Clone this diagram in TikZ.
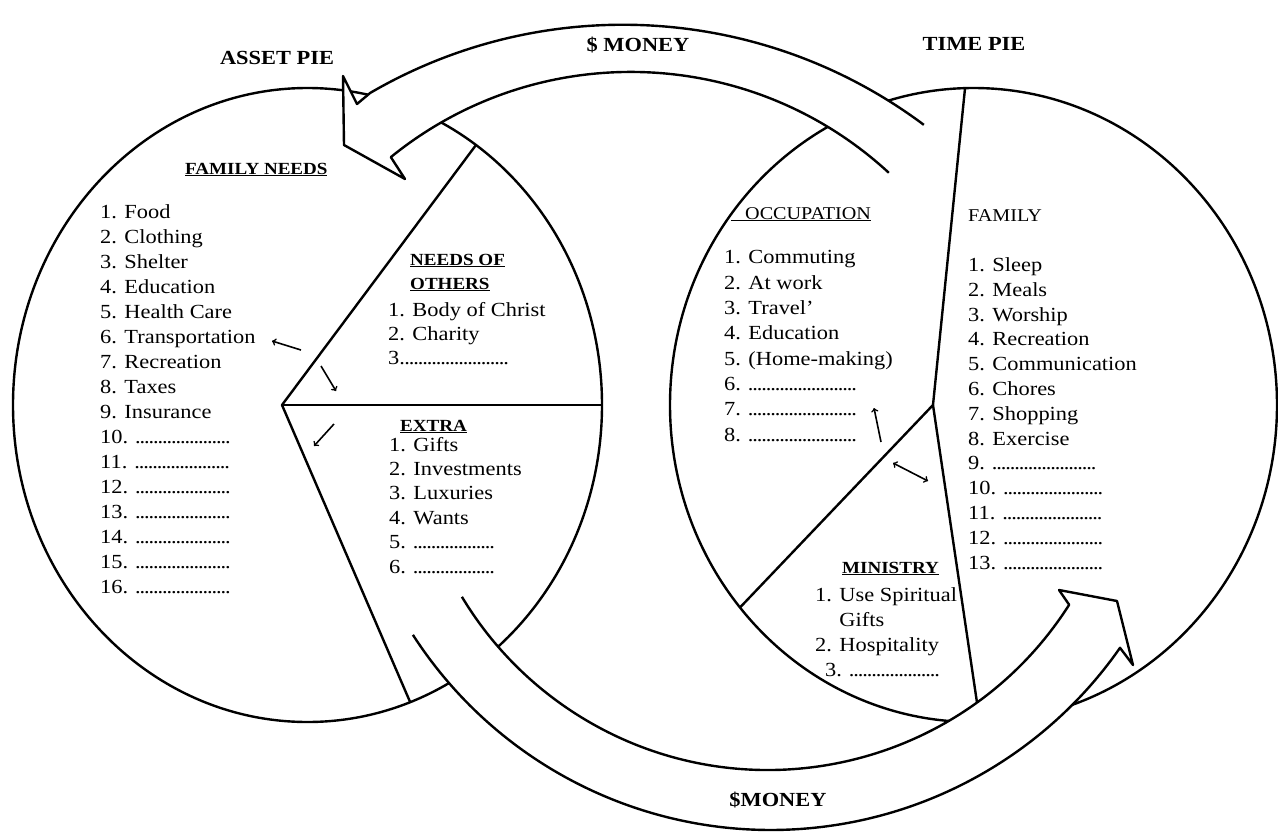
\documentclass[tikz,border=0pt]{standalone}
\usepackage{fontspec}
\setmainfont[FakeStretch=1.12]{Liberation Serif}
\usetikzlibrary{calc}
\newcommand\fillin[1]{\makebox[#1pt]{\leaders\hbox to 4.5pt{\hss.\hss}\hfill}}

\begin{document}
\begin{tikzpicture}[x=1pt, y=-1pt, line join=round]
\path[use as bounding box, fill=white] (0,0) rectangle (1278,833);
\tikzset{pie/.style={line width=2.4pt}, band/.style={line width=2.4pt, fill=white}}
\tikzset{every node/.style={inner sep=0pt, anchor=base west, align=left}}
\tikzset{items/.style={font=\fontsize{20}{#1}\selectfont}, items/.default=25}
\tikzset{head/.style={font=\fontsize{17}{24}\selectfont\bfseries}}
\tikzset{sub/.style={font=\fontsize{18}{24}\selectfont}}
\tikzset{title/.style={anchor=base, font=\fontsize{20}{24}\selectfont\bfseries}}

\coordinate (lc) at (307.5,405);
\coordinate (rc) at (973.5,405);
\coordinate (lv) at (282,405);
\coordinate (rv) at (933,405);
\coordinate (l1) at ($(lc)+(-55.1:294.5 and 317)$);
\coordinate (l2) at ($(lc)+(0:294.5 and 317)$);
\coordinate (l3) at ($(lc)+(69.6:294.5 and 317)$);
\coordinate (r1) at ($(rc)+(-91.6:303.5 and 317)$);
\coordinate (r2) at ($(rc)+(140.3:303.5 and 317)$);
\coordinate (r3) at ($(rc)+(88.8:303.5 and 317)$);

\draw[pie] (lc) ellipse [x radius=294.5, y radius=317];
\draw[pie] (rc) ellipse [x radius=303.5, y radius=317];
\draw[pie] (l1) -- (lv) -- (l3);
\draw[pie] (lv) -- (l2);
\draw[pie] (r1) -- (rv) -- (r3);
\draw[pie] (rv) -- (r2);

\coordinate (tbo) at (622.9,527.1);
\coordinate (tbi) at (630.8,452.4);
\coordinate (bbo) at (770.8,404.2);
\coordinate (bbi) at (768,412.9);
\draw[band] ($(tbo)+(-53.2:502.4)$) arc[start angle=-53.2, end angle=-120.2, radius=502.4]
  -- (357,104) -- (343,76) -- (344,145) -- (405,179)
  -- ($(tbi)+(-129.1:380.5)$) arc[start angle=-129.1, end angle=-47.3, radius=380.5];
\draw[band] ($(bbo)+(147.2:425.8)$) arc[start angle=147.2, end angle=34.9, radius=425.8]
  -- (1133,665) -- (1117,601) -- (1059,590)
  -- ($(bbi)+(32.5:357.1)$) arc[start angle=32.5, end angle=149, radius=357.1];

\node[title] (asset) at (277,64) {ASSET PIE};
\node[title] (moneytop) at (638,51) {\$ MONEY};
\node[title] (time) at (974,50) {TIME PIE};
\node[title] (moneybot) at (778,806) {\$MONEY};

\node[head] (needs) at (185,174) {\underline{FAMILY NEEDS}};
\node[items] (needslist) at (100,593) {1. Food\\2. Clothing\\3. Shelter\\4. Education\\5. Health Care\\6. Transportation\\7. Recreation\\8. Taxes\\9. Insurance\\10. \fillin{98}\\11. \fillin{98}\\12. \fillin{98}\\13. \fillin{98}\\14. \fillin{98}\\15. \fillin{98}\\16. \fillin{98}};
\node[head] (others) at (410,289) {\underline{NEEDS OF}\\\underline{OTHERS}};
\node[items=24] (otherslist) at (388,364) {1. Body of Christ\\2. Charity\\3.\fillin{105}};
\node[head] (extra) at (400,431) {\underline{EXTRA}};
\node[items=24.4] (extralist) at (389,573) {1. Gifts\\2. Investments\\3. Luxuries\\4. Wants\\5. \fillin{85}\\6. \fillin{85}};

\node[sub] (occup) at (731,219) {\underline{\hspace*{14pt}OCCUPATION}};
\node[items=25.3] (occuplist) at (724,441) {1. Commuting\\2. At work\\3. Travel'\\4. Education\\5. (Home-making)\\6. \fillin{112}\\7. \fillin{112}\\8. \fillin{112}};
\node[sub] (family) at (968,221) {FAMILY};
\node[items=24.8] (familylist) at (968,569) {1. Sleep\\2. Meals\\3. Worship\\4. Recreation\\5. Communication\\6. Chores\\7. Shopping\\8. Exercise\\9. \fillin{105}\\10. \fillin{100}\\11. \fillin{100}\\12. \fillin{100}\\13. \fillin{100}};
\node[head] (ministry) at (842,573) {\underline{MINISTRY}};
\node[items] (ministrylist) at (815,676) {1. Use Spiritual\\\phantom{1. }Gifts\\2. Hospitality\\\hspace*{10pt}3. \fillin{90}};

\coordinate (a1s) at (301,350);
\coordinate (a1e) at (272,341);
\coordinate (a2s) at (321,366);
\coordinate (a2e) at (336,391);
\coordinate (a3s) at (334,424);
\coordinate (a3e) at (314,446);
\coordinate (a4s) at (881,442);
\coordinate (a4e) at (874,408);
\coordinate (a5s) at (893,463);
\coordinate (a5e) at (928,481);

\tikzset{hand/.style={->, line width=1.6pt}}
\draw[hand] (a1s) -- (a1e);
\draw[hand] (a2s) -- (a2e);
\draw[hand] (a3s) -- (a3e);
\draw[hand] (a4s) -- (a4e);
\draw[hand, <->] (a5s) -- (a5e);
\end{tikzpicture}
\end{document}
